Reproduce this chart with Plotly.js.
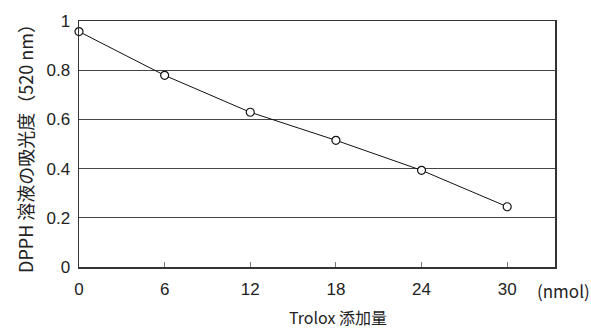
<!DOCTYPE html>
<html><head><meta charset="utf-8">
<script src="https://cdn.plot.ly/plotly-3.0.1.min.js"></script>
<style>body{margin:0;background:#fff}#c{width:591px;height:329px}</style>
</head><body><div id="c"></div>
<script>
const trolox = [0, 6, 12, 18, 24, 30];
const absorbance = [0.957, 0.779, 0.629, 0.515, 0.393, 0.245];
const xTicks = [0, 6, 12, 18, 24, 30];
const yTicks = [0, 0.2, 0.4, 0.6, 0.8, 1];
const xTitle = 'Trolox 添加量';
const yTitle = 'DPPH 溶液の吸光度（520 nm）';
const unitLabel = '(nmol)';

const tickFont = {family: 'Liberation Sans, Arial, sans-serif', size: 17, color: '#222'};
const titleFont = {family: 'Noto Sans CJK JP, sans-serif', size: 16, color: '#222'};

Plotly.newPlot('c', [{
  x: trolox, y: absorbance, type: 'scatter', mode: 'lines+markers',
  line: {color: '#111', width: 1},
  marker: {symbol: 'circle', size: 8, color: '#fff', line: {color: '#111', width: 1.2}},
  cliponaxis: false, showlegend: false
}], {
  width: 591, height: 329,
  margin: {l: 78.5, r: 36, t: 20.7, b: 62.3},
  paper_bgcolor: '#fff', plot_bgcolor: '#fff',
  xaxis: {
    range: [0, 33.35], tickvals: xTicks, ticktext: xTicks.map(String),
    ticks: 'inside', ticklen: 5, tickcolor: '#777', tickwidth: 1,
    showgrid: false, zeroline: false,
    showline: true, linecolor: '#333', linewidth: 1.5, mirror: true,
    tickfont: tickFont, ticklabelstandoff: 6
  },
  yaxis: {
    range: [0, 1], tickvals: yTicks, ticktext: yTicks.map(String),
    ticks: '', showgrid: true, gridcolor: '#444', gridwidth: 1,
    zeroline: false, showline: true, linecolor: '#333', linewidth: 1.5, mirror: true,
    tickfont: tickFont, ticklabelstandoff: 4,
    title: {text: yTitle, font: Object.assign({}, titleFont, {size: 18}), standoff: 8}
  },
  annotations: [{
    text: xTitle, xref: 'paper', yref: 'paper', x: 0.0, y: 0, xanchor: 'center', yanchor: 'middle',
    xshift: 337 - 78.5, yshift: -(316.5 - 266.7), showarrow: false, borderpad: 0,
    font: titleFont
  }, {
    text: unitLabel, xref: 'paper', yref: 'paper', x: 0.0, y: 0, xanchor: 'center', yanchor: 'middle',
    xshift: 563 - 78.5, yshift: -(290 - 266.7), showarrow: false, borderpad: 0,
    font: Object.assign({}, titleFont, {size: 17})
  }]
}, {displayModeBar: false, staticPlot: true});
</script></body></html>
